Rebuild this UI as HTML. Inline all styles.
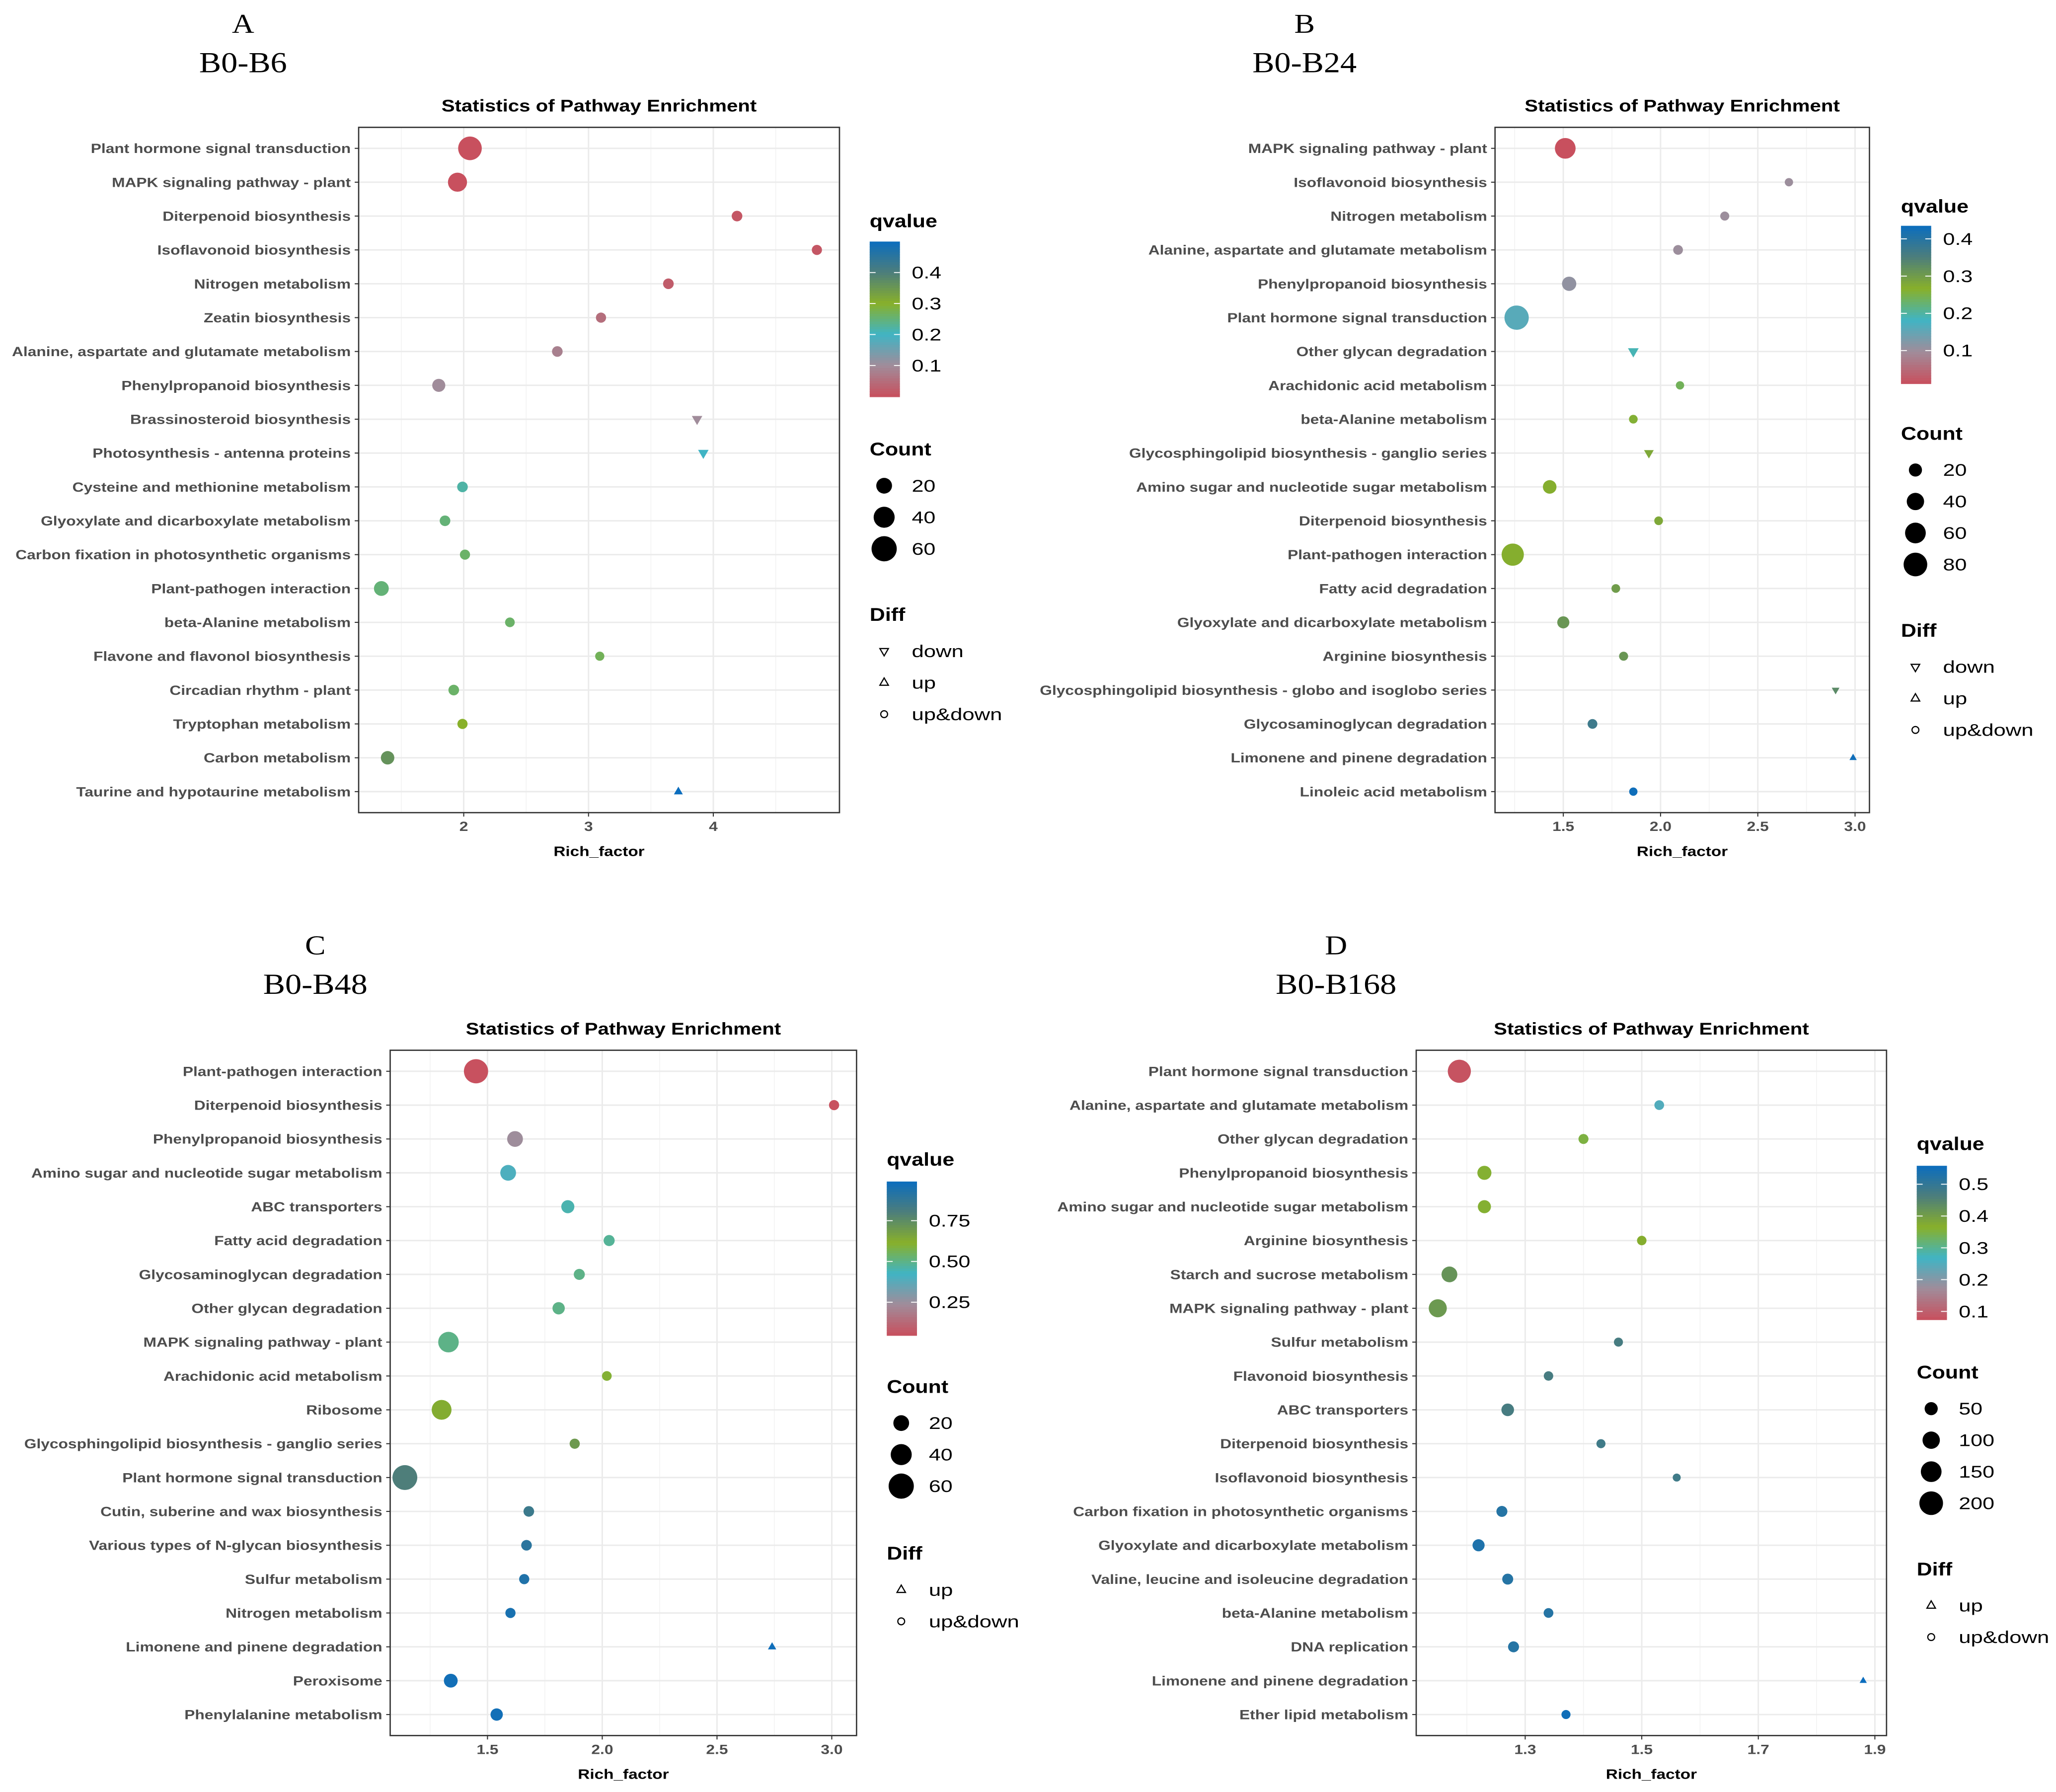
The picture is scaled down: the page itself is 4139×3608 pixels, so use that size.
<!DOCTYPE html>
<html><head><meta charset="utf-8">
<style>
html,body{margin:0;padding:0;background:#fff;}
svg{display:block;}
</style></head>
<body>
<svg id="fig" xmlns="http://www.w3.org/2000/svg" width="4139" height="3608" viewBox="0 0 1565 1365" preserveAspectRatio="none"></svg>
<script>
// ---------- Panel A data ----------
const namesA=["Plant hormone signal transduction","MAPK signaling pathway - plant","Diterpenoid biosynthesis","Isoflavonoid biosynthesis","Nitrogen metabolism","Zeatin biosynthesis","Alanine, aspartate and glutamate metabolism","Phenylpropanoid biosynthesis","Brassinosteroid biosynthesis","Photosynthesis - antenna proteins","Cysteine and methionine metabolism","Glyoxylate and dicarboxylate metabolism","Carbon fixation in photosynthetic organisms","Plant-pathogen interaction","beta-Alanine metabolism","Flavone and flavonol biosynthesis","Circadian rhythm - plant","Tryptophan metabolism","Carbon metabolism","Taurine and hypotaurine metabolism"];
const richA=[2.05,1.95,4.19,4.83,3.64,3.10,2.75,1.80,3.87,3.92,1.99,1.85,2.01,1.34,2.37,3.09,1.92,1.99,1.39,3.72];
const qA=[0.0,0.0,0.01,0.01,0.02,0.05,0.08,0.10,0.10,0.20,0.22,0.25,0.26,0.25,0.26,0.27,0.26,0.30,0.36,0.50];
const countA=[52,32,6,5,6,5,6,12,5,5,6,6,5,17,4,3,6,5,13,2];
const shapeA=["o","o","o","o","o","o","o","o","d","d","o","o","o","o","o","o","o","o","o","u"];
const xTicksA=[2,3,4];
const qTicksA=[0.1,0.2,0.3,0.4];
const countLegA=[20,40,60];
const diffLegA=["down","up","up&down"];

// ---------- Panel B data ----------
const namesB=["MAPK signaling pathway - plant","Isoflavonoid biosynthesis","Nitrogen metabolism","Alanine, aspartate and glutamate metabolism","Phenylpropanoid biosynthesis","Plant hormone signal transduction","Other glycan degradation","Arachidonic acid metabolism","beta-Alanine metabolism","Glycosphingolipid biosynthesis - ganglio series","Amino sugar and nucleotide sugar metabolism","Diterpenoid biosynthesis","Plant-pathogen interaction","Fatty acid degradation","Glyoxylate and dicarboxylate metabolism","Arginine biosynthesis","Glycosphingolipid biosynthesis - globo and isoglobo series","Glycosaminoglycan degradation","Limonene and pinene degradation","Linoleic acid metabolism"];
const richB=[1.51,2.66,2.33,2.09,1.53,1.26,1.86,2.10,1.86,1.94,1.43,1.99,1.24,1.77,1.50,1.81,2.90,1.65,2.99,1.86];
const qB=[0.012,0.10,0.10,0.10,0.11,0.16,0.19,0.24,0.26,0.28,0.27,0.28,0.27,0.30,0.31,0.31,0.33,0.37,0.43,0.43];
const countB=[60,4,6,8,25,85,10,4,5,7,22,5,70,5,16,6,2,8,1,4];
const shapeB=["o","o","o","o","o","o","d","o","o","d","o","o","o","o","o","o","d","o","u","o"];
const xTicksB=[1.5,2.0,2.5,3.0];
const qTicksB=[0.1,0.2,0.3,0.4];
const countLegB=[20,40,60,80];
const diffLegB=["down","up","up&down"];

// ---------- Panel C data ----------
const namesC=["Plant-pathogen interaction","Diterpenoid biosynthesis","Phenylpropanoid biosynthesis","Amino sugar and nucleotide sugar metabolism","ABC transporters","Fatty acid degradation","Glycosaminoglycan degradation","Other glycan degradation","MAPK signaling pathway - plant","Arachidonic acid metabolism","Ribosome","Glycosphingolipid biosynthesis - ganglio series","Plant hormone signal transduction","Cutin, suberine and wax biosynthesis","Various types of N-glycan biosynthesis","Sulfur metabolism","Nitrogen metabolism","Limonene and pinene degradation","Peroxisome","Phenylalanine metabolism"];
const richC=[1.45,3.01,1.62,1.59,1.85,2.03,1.90,1.81,1.33,2.02,1.30,1.88,1.14,1.68,1.67,1.66,1.60,2.74,1.34,1.54];
const qC=[0.05,0.05,0.24,0.40,0.45,0.48,0.50,0.50,0.50,0.60,0.63,0.70,0.80,0.85,0.90,0.93,0.95,0.98,0.97,0.97];
const countC=[55,5,20,20,12,7,7,10,38,4,35,5,58,6,6,5,5,1,14,10];
const shapeC=["o","o","o","o","o","o","o","o","o","o","o","o","o","o","o","o","o","u","o","o"];
const xTicksC=[1.5,2.0,2.5,3.0];
const qTicksC=[0.25,0.50,0.75];
const qTickLabC=["0.25","0.50","0.75"];
const countLegC=[20,40,60];
const diffLegC=["up","up&down"];

// ---------- Panel D data ----------
const namesD=["Plant hormone signal transduction","Alanine, aspartate and glutamate metabolism","Other glycan degradation","Phenylpropanoid biosynthesis","Amino sugar and nucleotide sugar metabolism","Arginine biosynthesis","Starch and sucrose metabolism","MAPK signaling pathway - plant","Sulfur metabolism","Flavonoid biosynthesis","ABC transporters","Diterpenoid biosynthesis","Isoflavonoid biosynthesis","Carbon fixation in photosynthetic organisms","Glyoxylate and dicarboxylate metabolism","Valine, leucine and isoleucine degradation","beta-Alanine metabolism","DNA replication","Limonene and pinene degradation","Ether lipid metabolism"];
const richD=[1.187,1.53,1.40,1.23,1.23,1.50,1.17,1.15,1.46,1.34,1.27,1.43,1.56,1.26,1.22,1.27,1.34,1.28,1.88,1.37];
const qD=[0.08,0.25,0.35,0.36,0.36,0.37,0.42,0.41,0.47,0.47,0.47,0.48,0.48,0.52,0.53,0.52,0.52,0.52,0.56,0.55];
const countD=[190,20,22,60,50,18,80,110,15,18,45,15,8,30,40,30,20,30,2,15];
const shapeD=["o","o","o","o","o","o","o","o","o","o","o","o","o","o","o","o","o","o","u","o"];
const xTicksD=[1.3,1.5,1.7,1.9];
const qTicksD=[0.1,0.2,0.3,0.4,0.5];
const countLegD=[50,100,150,200];
const diffLegD=["up","up&down"];

const NS="http://www.w3.org/2000/svg";
const svg=document.getElementById("fig");
const SANS='"Liberation Sans", Arial, sans-serif';
const SERIF='"Liberation Serif", "Times New Roman", serif';

function mk(tag,attrs,parent){
  const el=document.createElementNS(NS,tag);
  for(const k in attrs) el.setAttribute(k,attrs[k]);
  (parent||svg).appendChild(el);
  return el;
}
function txt(str,attrs,parent,sx){
  const x=attrs.x,y=attrs.y;
  const a=Object.assign({},attrs);
  a.x=0;a.y=0;
  a.transform="translate("+x+","+y+") scale("+(sx||1.2)+",1)";
  const el=mk("text",a,parent);
  el.textContent=str;
  return el;
}
const stops=[[0,[200,80,94]],[0.2,[160,140,154]],[0.4,[64,180,196]],[0.6,[136,176,42]],[0.8,[77,126,123]],[1,[11,109,190]]];
function cmap(t){
  t=Math.max(0,Math.min(1,t));
  for(let i=0;i<stops.length-1;i++){
    const a=stops[i],b=stops[i+1];
    if(t<=b[0]){
      const f=(t-a[0])/(b[0]-a[0]);
      const c=a[1].map((v,j)=>Math.round(v+(b[1][j]-v)*f));
      return "rgb("+c.join(",")+")";
    }
  }
  return "rgb(11,109,190)";
}
function tri(cx,cy,r,up){
  const s=up?1:-1;
  return [[cx,cy-s*r],[cx-r*0.9,cy+s*r*0.55],[cx+r*0.9,cy+s*r*0.55]].map(p=>p.join(",")).join(" ");
}

function panel(cfg){
  const g=mk("g",{});
  
  
  const L=cfg.box[0],T=cfg.box[1],R=cfg.box[2],B=cfg.box[3];
  const xs=v=>L+(v-cfg.xd[0])/(cfg.xd[1]-cfg.xd[0])*(R-L);
  const n=cfg.names.length;
  const ys=i=>T+16+i*((B-T-32)/(n-1));
  const rr=c=>Math.sqrt(cfg.s0+cfg.sk*c);
  const qt=q=>(q-cfg.qd[0])/(cfg.qd[1]-cfg.qd[0]);

  let t=txt(cfg.letter,{x:cfg.lx,y:cfg.ly,"text-anchor":"middle","font-family":SERIF,"font-size":21,fill:"#000"},g,1.12);
  
  
  t=txt(cfg.cmp,{x:cfg.lx,y:cfg.ly+30,"text-anchor":"middle","font-family":SERIF,"font-size":22,fill:"#000"},g,1.14);
  
  
  t=txt("Statistics of Pathway Enrichment",{x:(L+R)/2,y:T-12,"text-anchor":"middle","font-family":SANS,"font-size":13,"font-weight":"bold",fill:"#000"},g,1.17);
  
  

  const bg=mk("rect",{x:L,y:T,width:R-L,height:B-T,fill:"#fff"},g);
  
  
  const step=cfg.xt[1]-cfg.xt[0];
  for(let v=cfg.xt[0]-step*1.5;v<=cfg.xd[1];v+=step/2){
    const x=xs(v);
    if(x<=L||x>=R)continue;
    const isMajor=cfg.xt.some(tk=>Math.abs(tk-v)<1e-6);
    if(isMajor)continue;
    const ln=mk("line",{x1:x,x2:x,y1:T,y2:B,stroke:"#f2f2f2","stroke-width":0.6},g);
    
    
  }
  cfg.xt.forEach(v=>{
    const x=xs(v);
    const ln=mk("line",{x1:x,x2:x,y1:T,y2:B,stroke:"#ebebeb","stroke-width":1.1},g);
    
    
    const tk=mk("line",{x1:x,x2:x,y1:B,y2:B+3,stroke:"#333","stroke-width":0.8},g);
    
    
    const lab=txt(cfg.xtl?cfg.xtl(v):String(v),{x:x,y:B+14,"text-anchor":"middle","font-family":SANS,"font-size":10,"font-weight":"bold",fill:"#4d4d4d"},g);
    
    
  });
  cfg.names.forEach((nm,i)=>{
    const y=ys(i);
    const ln=mk("line",{x1:L,x2:R,y1:y,y2:y,stroke:"#ebebeb","stroke-width":1.1},g);
    
    
    const tk=mk("line",{x1:L-3,x2:L,y1:y,y2:y,stroke:"#333","stroke-width":0.8},g);
    
    
    const lab=txt(nm,{x:L-6,y:y+3.6,"text-anchor":"end","font-family":SANS,"font-size":10,"font-weight":"bold",fill:"#4d4d4d"},g,1.2);
    
    
  });
  cfg.names.forEach((nm,i)=>{
    const cx=xs(cfg.rich[i]),cy=ys(i),r=rr(cfg.count[i]),col=cmap(qt(cfg.q[i]));
    let p;
    if(cfg.shape[i]==="o"){
      p=mk("circle",{cx:cx,cy:cy,r:r,fill:col},g);
    }else{
      p=mk("polygon",{points:tri(cx,cy,r*1.15,cfg.shape[i]==="u"),fill:col},g);
    }
    
    
  });
  const bd=mk("rect",{x:L,y:T,width:R-L,height:B-T,fill:"none",stroke:"#333","stroke-width":1},g);
  
  
  t=txt("Rich_factor",{x:(L+R)/2,y:B+33,"text-anchor":"middle","font-family":SANS,"font-size":10.5,"font-weight":"bold",fill:"#000"},g);
  
  

  const lx=cfg.leg[0];
  t=txt("qvalue",{x:lx,y:cfg.leg[1]+5,"font-family":SANS,"font-size":14,"font-weight":"bold",fill:"#000"},g,1.16);
  
  
  const bt=cfg.leg[2],bb=cfg.leg[3];
  for(let k=0;k<60;k++){
    const y0=bt+(bb-bt)*k/60;
    const s=mk("rect",{x:lx,y:y0,width:23,height:(bb-bt)/60+0.5,fill:cmap(1-(k+0.5)/60)},g);
    
    
  }
  cfg.qt.forEach((v,k)=>{
    const y=bb-(v-cfg.qd[0])/(cfg.qd[1]-cfg.qd[0])*(bb-bt);
    const a=mk("line",{x1:lx,x2:lx+4.5,y1:y,y2:y,stroke:"#fff","stroke-width":0.7},g);
    
    
    const b=mk("line",{x1:lx+18.5,x2:lx+23,y1:y,y2:y,stroke:"#fff","stroke-width":0.7},g);
    
    
    const lab=txt(cfg.qtl?cfg.qtl[k]:v.toFixed(1),{x:lx+32,y:y+4.5,"font-family":SANS,"font-size":13,fill:"#000"},g,1.25);
    
    
  });
  t=txt("Count",{x:lx,y:cfg.leg[4]+5,"font-family":SANS,"font-size":14,"font-weight":"bold",fill:"#000"},g,1.16);
  
  
  cfg.cl.forEach((c,k)=>{
    const y=cfg.leg[5]+k*24;
    const cc=mk("circle",{cx:lx+11,cy:y,r:rr(c),fill:"#000"},g);
    
    
    const lab=txt(String(c),{x:lx+32,y:y+4.5,"font-family":SANS,"font-size":13,fill:"#000"},g,1.25);
    
    
  });
  t=txt("Diff",{x:lx,y:cfg.leg[6]+5,"font-family":SANS,"font-size":14,"font-weight":"bold",fill:"#000"},g,1.16);
  
  
  cfg.dl.forEach((d,k)=>{
    const y=cfg.leg[7]+k*24;
    let s;
    if(d==="up&down") s=mk("circle",{cx:lx+11,cy:y,r:2.6,fill:"none",stroke:"#000","stroke-width":0.9},g);
    else s=mk("polygon",{points:tri(lx+11,y,3.6,d==="up"),fill:"none",stroke:"#000","stroke-width":0.9},g);
    
    
    const lab=txt(d,{x:lx+32,y:y+4.5,"font-family":SANS,"font-size":13,fill:"#000"},g,1.27);
    
    
  });
}

const f1=v=>v.toFixed(1);
panel({id:"a",letter:"A",cmp:"B0-B6",lx:185,ly:25,box:[273,97,639,619],xd:[1.158,5.011],xt:xTicksA,
  names:namesA,rich:richA,q:qA,count:countA,shape:shapeA,s0:8,sk:1.4,qd:[0,0.5],qt:qTicksA,cl:countLegA,dl:diffLegA,
  leg:[662,168,184,302,342,370,468,496]});
panel({id:"b",letter:"B",cmp:"B0-B24",lx:993,ly:25,box:[1138,97,1423,619],xd:[1.149,3.074],xt:xTicksB,xtl:f1,
  names:namesB,rich:richB,q:qB,count:countB,shape:shapeB,s0:6.3,sk:0.933,qd:[0.012,0.435],qt:qTicksB,cl:countLegB,dl:diffLegB,
  leg:[1447,157,172,292,330,358,480,508]});
panel({id:"c",letter:"C",cmp:"B0-B48",lx:240,ly:727,box:[297,800,652,1322],xd:[1.076,3.108],xt:xTicksC,xtl:f1,
  names:namesC,rich:richC,q:qC,count:countC,shape:shapeC,s0:8,sk:1.4,qd:[0.048,0.99],qt:qTicksC,qtl:qTickLabC,cl:countLegC,dl:diffLegC,
  leg:[675,883,900,1017,1056,1084,1183,1211]});
panel({id:"d",letter:"D",cmp:"B0-B168",lx:1017,ly:727,box:[1078,800,1436,1322],xd:[1.113,1.920],xt:xTicksD,xtl:f1,
  names:namesD,rich:richD,q:qD,count:countD,shape:shapeD,s0:6.3,sk:0.373,qd:[0.075,0.558],qt:qTicksD,cl:countLegD,dl:diffLegD,
  leg:[1459,871,888,1005,1045,1073,1195,1223]});
</script>
</body></html>
